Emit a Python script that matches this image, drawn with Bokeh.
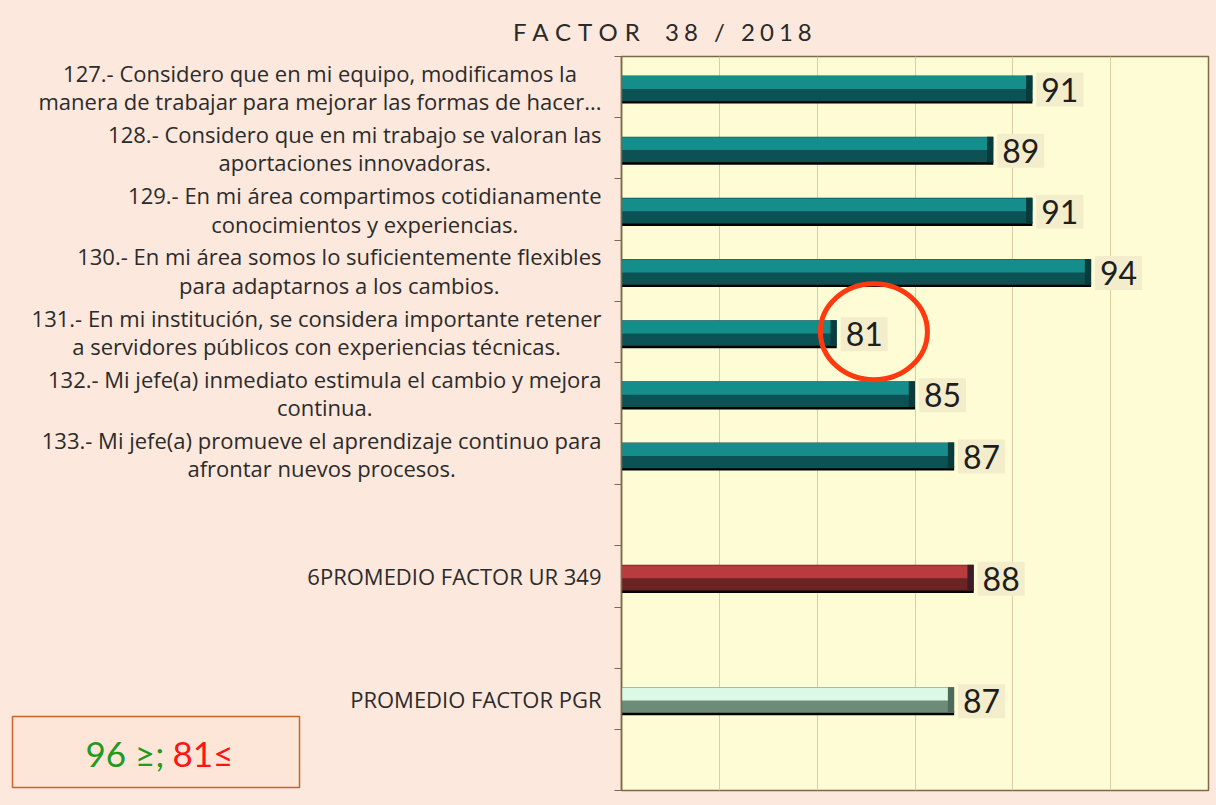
from bokeh.plotting import figure
from bokeh.models import ColumnDataSource, Range1d, FixedTicker, Div
from bokeh.layouts import row, column
from bokeh.core.properties import value
from bokeh.embed import file_html
from bokeh.resources import INLINE

# ---------------- data ----------------
questions = [
    "127.- Considero que en mi equipo, modificamos la\nmanera de trabajar para mejorar las formas de hacer...",
    "128.- Considero que en mi trabajo se valoran las\naportaciones innovadoras.",
    "129.- En mi área compartimos cotidianamente\nconocimientos y experiencias.",
    "130.- En mi área somos lo suficientemente flexibles\npara adaptarnos a los cambios.",
    "131.- En mi institución, se considera importante retener\na servidores públicos con experiencias técnicas.",
    "132.- Mi jefe(a) inmediato estimula el cambio y mejora\ncontinua.",
    "133.- Mi jefe(a) promueve el aprendizaje continuo para\nafrontar nuevos procesos.",
]
question_values = [91, 89, 91, 94, 81, 85, 87]
averages = ["6PROMEDIO FACTOR UR 349", "PROMEDIO FACTOR PGR"]
average_values = [88, 87]
average_kinds = ["ur", "pgr"]
thresholds = [96, 81]          # green >= 96 ; red <= 81
title_text = ("FACTOR", "38 / 2018")

# slot layout: questions, spacer, UR average, spacer, PGR average, spacer
slots = questions + [""] + [averages[0]] + [""] + [averages[1]] + [""]
nslots = len(slots)

# ---------------- colours ----------------
PINK = "#fce8dc"
YELLOW = "#fefcd4"
AXIS = "#7d6a48"
GRID = "#d9cfa2"
light_c = {"q": "#148d8b", "ur": "#b83c3e", "pgr": "#dcf9e6"}
dark_c = {"q": "#0c5255", "ur": "#6b2323", "pgr": "#6c8c79"}
cap_c = {"q": "#093b3d", "ur": "#3d1c28", "pgr": "#506a5a"}

names = questions + averages
vals = question_values + average_values
kinds = ["q"] * len(questions) + average_kinds
ys = [slots.index(n) for n in names]

src = ColumnDataSource(dict(
    y=ys, v=vals,
    y_shadow=[y + 0.235 for y in ys],
    y_dark=[y + 0.02 for y in ys],
    y_light=[y - 0.075 for y in ys],
    cap_left=[v - 0.32 for v in vals],
    lab_x=[v + 0.2 for v in vals],
    lab_y=[y + 0.04 for y in ys],
    lab=[str(v) for v in vals],
    light=[light_c[k] for k in kinds],
    dark=[dark_c[k] for k in kinds],
    cap=[cap_c[k] for k in kinds],
))

lab_src = ColumnDataSource(dict(
    y=[i for i, s in enumerate(slots) if s],
    text=[s for s in slots if s],
))

DIV_H = 44
FRAME_H = 734
TOP_B, BOT_B = 2, 8
FIG_H = TOP_B + FRAME_H + BOT_B
LEFT_W = 613
RIGHT_W = 603

# ---------------- left (labels) figure ----------------
lp = figure(width=LEFT_W, height=FIG_H, output_backend="svg", toolbar_location=None,
            x_range=Range1d(0, LEFT_W), y_range=Range1d(nslots - 0.5, -0.5),
            x_axis_location=None, y_axis_location=None,
            min_border_left=0, min_border_right=0,
            min_border_top=TOP_B, min_border_bottom=BOT_B)
lp.extra_y_ranges = {"px": Range1d(FRAME_H, 0)}
lp.background_fill_color = PINK
lp.border_fill_color = PINK
lp.outline_line_color = None
lp.grid.visible = False

lp.text(x=601, y="y", text="text", source=lab_src, anchor="center_right",
        text_align="center", text_font=value("Open Sans"), text_font_size="22px",
        text_color="#2b2b2b", text_line_height=0.94)

# threshold legend box
lp.quad(left=[12], right=[299], top=[660], bottom=[731], y_range_name="px",
        fill_color="#fde6d8", line_color="#c8642c", line_width=1.5)
lp.text(x=[164], y=[696], text=[f"{thresholds[0]} ≥;"], y_range_name="px",
        anchor="center_right", text_font=value("Lato"), text_font_size="35px",
        text_color="#1f9a1f")
lp.text(x=[172], y=[696], text=[f"{thresholds[1]}≤"], y_range_name="px",
        anchor="center_left", text_font=value("Lato"), text_font_size="35px",
        text_color="#ff1414")

# ---------------- right (bars) figure ----------------
p = figure(width=RIGHT_W, height=FIG_H, output_backend="svg", toolbar_location=None,
           x_range=Range1d(70, 100), y_range=lp.y_range,
           min_border_left=8, min_border_right=8,
           min_border_top=TOP_B, min_border_bottom=BOT_B)
p.background_fill_color = YELLOW
p.border_fill_color = PINK
p.outline_line_color = AXIS
p.outline_line_width = 1.5

p.xaxis.visible = False
p.xgrid.ticker = FixedTicker(ticks=[75, 80, 85, 90, 95])
p.xgrid.grid_line_color = GRID
p.xgrid.grid_line_width = 1
p.ygrid.visible = False

ya = p.yaxis[0]
ya.ticker = FixedTicker(ticks=[], minor_ticks=[i - 0.5 for i in range(nslots + 1)])
ya.major_label_text_font_size = "0px"
ya.major_label_standoff = 0
ya.major_tick_out = 0
ya.major_tick_in = 0
ya.minor_tick_out = 7
ya.minor_tick_in = 0
ya.minor_tick_line_color = AXIS
ya.axis_line_color = AXIS
ya.axis_line_width = 1.5

# 3D-like bars
p.hbar(y="y_shadow", left=70, right="v", height=0.07, source=src,
       fill_color="#000000", line_color=None)
p.hbar(y="y_dark", left=70, right="v", height=0.42, source=src,
       fill_color="dark", line_color=None)
p.hbar(y="y_light", left=70, right="v", height=0.21, source=src,
       fill_color="light", line_color=None)
p.hbar(y="y_dark", left="cap_left", right="v", height=0.42, source=src,
       fill_color="cap", line_color=None)

# value labels
p.text(x="lab_x", y="lab_y", text="lab", source=src, anchor="center_left",
       text_font=value("Lato"), text_font_size="32px", text_color="#1e1e1e",
       background_fill_color="#f4edcc", padding=5)

# red circle around values at/below the low threshold
low = [i for i, v in enumerate(vals) if v <= thresholds[1]]
p.ellipse(x=[vals[i] + 1.9 for i in low], y=[ys[i] for i in low],
          width=107, height=96, width_units="screen", height_units="screen",
          fill_color=None, line_color="#ff3a10", line_width=5)

title = Div(text=(
    '<div style="padding-left:508px;padding-top:12px;font-family:Lato;'
    'font-size:24px;line-height:30px;color:#2a2a2a;white-space:nowrap;">'
    f'<span style="letter-spacing:7px;">{title_text[0]}</span>&nbsp;&nbsp; '
    f'<span style="letter-spacing:5px;">{title_text[1]}</span></div>'),
    width=LEFT_W + RIGHT_W, height=DIV_H, styles={"background-color": PINK})

layout = column(title, row(lp, p, spacing=0), spacing=0)

html = file_html(layout, INLINE, title="Factor 38 / 2018")
html = html.replace("</head>",
                    f"<style>html,body{{margin:0;padding:0;background-color:{PINK};}}</style></head>", 1)
open("out.html", "w").write(html)
